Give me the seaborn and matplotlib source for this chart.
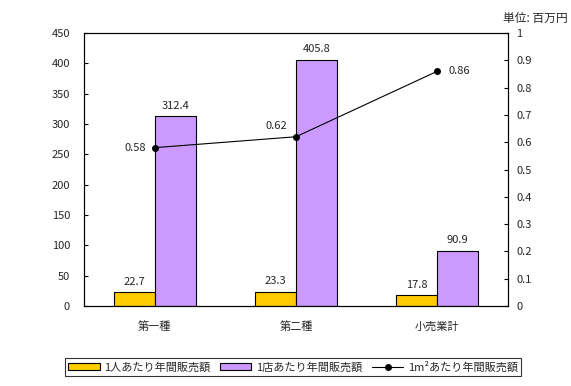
import pandas as pd
import matplotlib
matplotlib.use("Agg")
import matplotlib.pyplot as plt
import seaborn as sns
from matplotlib.lines import Line2D
from matplotlib.patches import Patch

# data
categories = ["第一種", "第二種", "小売業計"]
per_person = [22.7, 23.3, 17.8]      # 1人あたり年間販売額
per_store = [312.4, 405.8, 90.9]     # 1店あたり年間販売額
per_sqm = [0.58, 0.62, 0.86]         # 1㎡あたり年間販売額

s1 = "1人あたり年間販売額"
s2 = "1店あたり年間販売額"
s3 = "1m²あたり年間販売額"

df = pd.DataFrame({
    "cat": categories * 2,
    "series": [s1] * 3 + [s2] * 3,
    "value": per_person + per_store,
})

sns.set_theme(style="white")
plt.rcParams["font.family"] = ["Noto Sans CJK JP", "DejaVu Sans"]
fs = 8

colors = ["#FFCC00", "#CC99FF"]

fig = plt.figure(figsize=(5.71, 3.86), dpi=100)
ax = fig.add_axes([84 / 571, 1 - 306 / 386, (508 - 84) / 571, (306 - 33) / 386])

sns.barplot(data=df, x="cat", y="value", hue="series", palette=colors,
            width=0.58, edgecolor="black", linewidth=0.8, saturation=1,
            legend=False, ax=ax)

for cont in ax.containers:
    ax.bar_label(cont, fmt="%.1f", padding=4, fontsize=fs)

ax.set_ylim(0, 450)
ax.set_yticks(range(0, 451, 50))
ax.set_xlim(-0.5, 2.5)
ax.set_xlabel("")
ax.set_ylabel("")
ax.set_xticks([0.5, 1.5], minor=False)
ax.set_xticklabels([])
ax.set_xticks([0, 1, 2], minor=True)
ax.set_xticklabels(categories, minor=True)
ax.tick_params(axis="x", which="major", direction="in", length=3, width=0.8, color="black")
ax.tick_params(axis="x", which="minor", length=0, pad=11, labelsize=fs)
ax.tick_params(axis="y", direction="in", length=3, width=0.8, color="black", labelsize=fs, pad=10)
for sp in ax.spines.values():
    sp.set_color("black")
    sp.set_linewidth(0.8)

ax2 = ax.twinx()
ax2.plot(range(len(categories)), per_sqm, color="black", marker="o",
         markersize=4, linewidth=0.8)
ax2.set_ylim(0, 1)
ax2.set_yticks([i / 10 for i in range(11)])
ax2.set_yticklabels(["0", "0.1", "0.2", "0.3", "0.4", "0.5", "0.6", "0.7", "0.8", "0.9", "1"])
ax2.tick_params(axis="y", direction="in", length=3, width=0.8, color="black", labelsize=fs, pad=6)
for sp in ax2.spines.values():
    sp.set_color("black")
    sp.set_linewidth(0.8)

offsets = [(-6, 0, "right", "center"), (-6, 4, "right", "bottom"), (8, 0, "left", "center")]
for i, v in enumerate(per_sqm):
    dx, dy, ha, va = offsets[i]
    ax2.annotate(f"{v:.2f}", (i, v), xytext=(dx, dy), textcoords="offset points",
                 ha=ha, va=va, fontsize=fs)

fig.text(568 / 571, 1 - 18 / 386, "単位: 百万円", ha="right", va="center", fontsize=8.5)

handles = [
    Patch(facecolor=colors[0], edgecolor="black", linewidth=0.8),
    Patch(facecolor=colors[1], edgecolor="black", linewidth=0.8),
    Line2D([0], [0], color="black", marker="o", markersize=4, linewidth=0.8),
]
leg = fig.legend(handles, [s1, s2, s3], loc="center", bbox_to_anchor=(293 / 571, 1 - 367 / 386),
                 ncol=3, frameon=True, fancybox=False, fontsize=fs,
                 handlelength=2.8, handleheight=0.6, columnspacing=0.9,
                 handletextpad=0.4, borderpad=0.3, borderaxespad=0)
leg.get_frame().set_edgecolor("black")
leg.get_frame().set_linewidth(0.8)

fig.savefig("out.png", dpi=100)
